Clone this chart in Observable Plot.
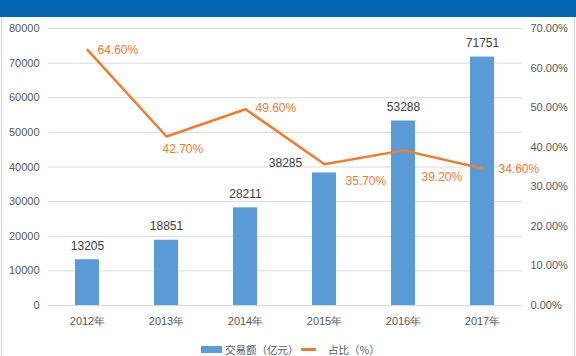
<!DOCTYPE html>
<html>
<head>
<meta charset="utf-8">
<script src="https://cdn.jsdelivr.net/npm/d3@7"></script>
<script src="https://cdn.jsdelivr.net/npm/@observablehq/plot@0.6"></script>
<style>
  html, body { margin: 0; padding: 0; width: 576px; height: 356px; overflow: hidden; background: #fff; }
  body { position: relative; font-family: "Liberation Sans", Arial, "Noto Sans CJK SC", sans-serif; }
  #header { position: absolute; left: 0; top: 0; width: 576px; height: 17px; background: #0666b4; }
  #frameL { position: absolute; left: 1px; top: 17px; width: 1px; height: 339px; background: #d4d4d4; }
  #frameR { position: absolute; left: 574px; top: 17px; width: 1px; height: 339px; background: #d4d4d4; }
  #chart { position: absolute; left: 0; top: 17px; }
  #legend { position: absolute; left: 0; top: 343px; width: 576px; height: 13px; font-size: 10.5px; color: #595959;
            font-family: "Noto Sans CJK SC", sans-serif; }
  .sw { position: absolute; }
  .lt { position: absolute; top: 0; line-height: 13px; white-space: nowrap; }
</style>
</head>
<body>
<div id="header"></div>
<div id="frameL"></div>
<div id="frameR"></div>
<div id="chart"></div>
<div id="legend">
  <div class="sw" style="left:201px; top:3px; width:21px; height:7px; background:#5b9bd5;"></div>
  <div class="lt" id="lg1" style="left:225px;"></div>
  <div class="sw" style="left:301px; top:5px; width:15px; height:2.5px; background:#ed7d31;"></div>
  <div class="lt" id="lg2" style="left:328px;"></div>
</div>
<script>
// ---- data ----
const years = ["2012年", "2013年", "2014年", "2015年", "2016年", "2017年"];
const volume = [13205, 18851, 28211, 38285, 53288, 71751];     // 交易额（亿元）
const share = [64.60, 42.70, 49.60, 35.70, 39.20, 34.60];       // 占比（%）
const leftTicks = [0, 10000, 20000, 30000, 40000, 50000, 60000, 70000, 80000];
const rightTicks = [0, 10, 20, 30, 40, 50, 60, 70];
const seriesNames = ["交易额（亿元）", "占比（%）"];

// ---- layout / style ----
const yMax = 80000, pMax = 70;
const toY = p => p * yMax / pMax;
const axisColor = "#595959";
const barColor = "#5b9bd5";
const lineColor = "#ed7d31";
const gridColor = "#d9d9d9";
const font = "Liberation Sans, Arial, sans-serif";

// label nudges (style tweaks, per point)
const pctNudge = [[10, 0], [-4, 13], [10, -1], [21, 17], [18, 27], [16, 1]];
const barNudge = [[0, -14], [0, -14], [0, -14], [-39, -10], [0, -14], [0, -14]];

document.getElementById("lg1").textContent = seriesNames[0];
document.getElementById("lg2").textContent = seriesNames[1];

const rows = years.map((y, i) => ({year: y, vol: volume[i], pct: share[i], i}));

const pctLabels = rows.map((d, i) => Plot.text([d], {
  x: "year", y: d => toY(d.pct), text: d => d.pct.toFixed(2) + "%",
  textAnchor: "start", dx: pctNudge[i][0], dy: pctNudge[i][1],
  fill: lineColor, fontSize: 12
}));
const barLabels = rows.map((d, i) => Plot.text([d], {
  x: "year", y: "vol", text: d => String(d.vol),
  dx: barNudge[i][0], dy: barNudge[i][1],
  fill: "#404040", fontSize: 12
}));

const chart = Plot.plot({
  width: 576,
  height: 326,
  marginLeft: 48,
  marginRight: 54,
  marginTop: 11,
  marginBottom: 38,
  style: {fontFamily: font, fontSize: "11px", color: axisColor, background: "transparent"},
  x: {domain: years, paddingInner: 0.69, paddingOuter: 0.345, label: null},
  y: {domain: [0, yMax], label: null},
  marks: [
    Plot.ruleY(leftTicks, {stroke: gridColor, strokeWidth: 1}),
    Plot.axisY(leftTicks, {anchor: "left", tickSize: 0, tickPadding: 9, label: null,
      tickFormat: d => String(d), fill: axisColor, fontSize: 11}),
    Plot.axisY(rightTicks.map(toY), {anchor: "right", tickSize: 0, tickPadding: 8, label: null,
      textAnchor: "start", tickFormat: d => (d * pMax / yMax).toFixed(2) + "%", fill: axisColor, fontSize: 11}),
    Plot.axisX({anchor: "bottom", tickSize: 0, tickPadding: 12, label: null, fill: axisColor, fontSize: 11}),
    Plot.barY(rows, {x: "year", y: "vol", fill: barColor}),
    Plot.line(rows, {x: "year", y: d => toY(d.pct), stroke: lineColor, strokeWidth: 2.5, strokeLinejoin: "round"}),
    ...barLabels,
    ...pctLabels
  ]
});
document.getElementById("chart").appendChild(chart);
</script>
</body>
</html>
